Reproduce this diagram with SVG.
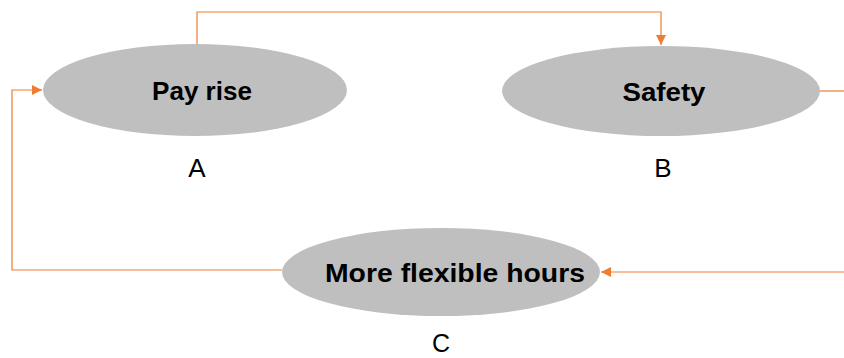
<svg xmlns="http://www.w3.org/2000/svg" width="844" height="358" viewBox="0 0 844 358">
<style>
.node{fill:#BFBFBF;}
.t{font-family:"Liberation Sans",Arial,sans-serif;font-weight:bold;font-size:25px;fill:#000;text-anchor:middle;}
.l{font-family:"Liberation Sans",Arial,sans-serif;font-size:26px;fill:#000;text-anchor:middle;}
.c{fill:none;stroke:#ED7D31;stroke-width:1.2;}
</style>
<defs>
<marker id="ah" viewBox="0 0 10 10" refX="10" refY="5" markerWidth="10" markerHeight="10" markerUnits="userSpaceOnUse" orient="auto">
<path d="M0,0 L10,5 L0,10 Z" fill="#ED7D31"/>
</marker>
</defs>
<rect width="844" height="358" fill="#fff"/>
<g id="connectors">
<path class="c" d="M197,44 V12 H661 V45" marker-end="url(#ah)"/>
<path class="c" d="M820,91 H844"/>
<path class="c" d="M844,272 H601" marker-end="url(#ah)"/>
<path class="c" d="M282,270 H12 V90 H42" marker-end="url(#ah)"/>
</g>
<g id="nodeA">
<ellipse class="node" cx="195" cy="90" rx="152" ry="46"/>
<text class="t" x="202" y="100" textLength="100" lengthAdjust="spacingAndGlyphs">Pay rise</text>
<text class="l" x="197" y="177">A</text>
</g>
<g id="nodeB">
<ellipse class="node" cx="661" cy="91" rx="159" ry="45"/>
<text class="t" x="664" y="101" textLength="83" lengthAdjust="spacingAndGlyphs">Safety</text>
<text class="l" x="663" y="177">B</text>
</g>
<g id="nodeC">
<ellipse class="node" cx="441" cy="272" rx="159" ry="44"/>
<text class="t" x="455" y="282" textLength="260" lengthAdjust="spacingAndGlyphs">More flexible hours</text>
<text class="l" x="441" y="352" style="font-size:25px">C</text>
</g>
</svg>
